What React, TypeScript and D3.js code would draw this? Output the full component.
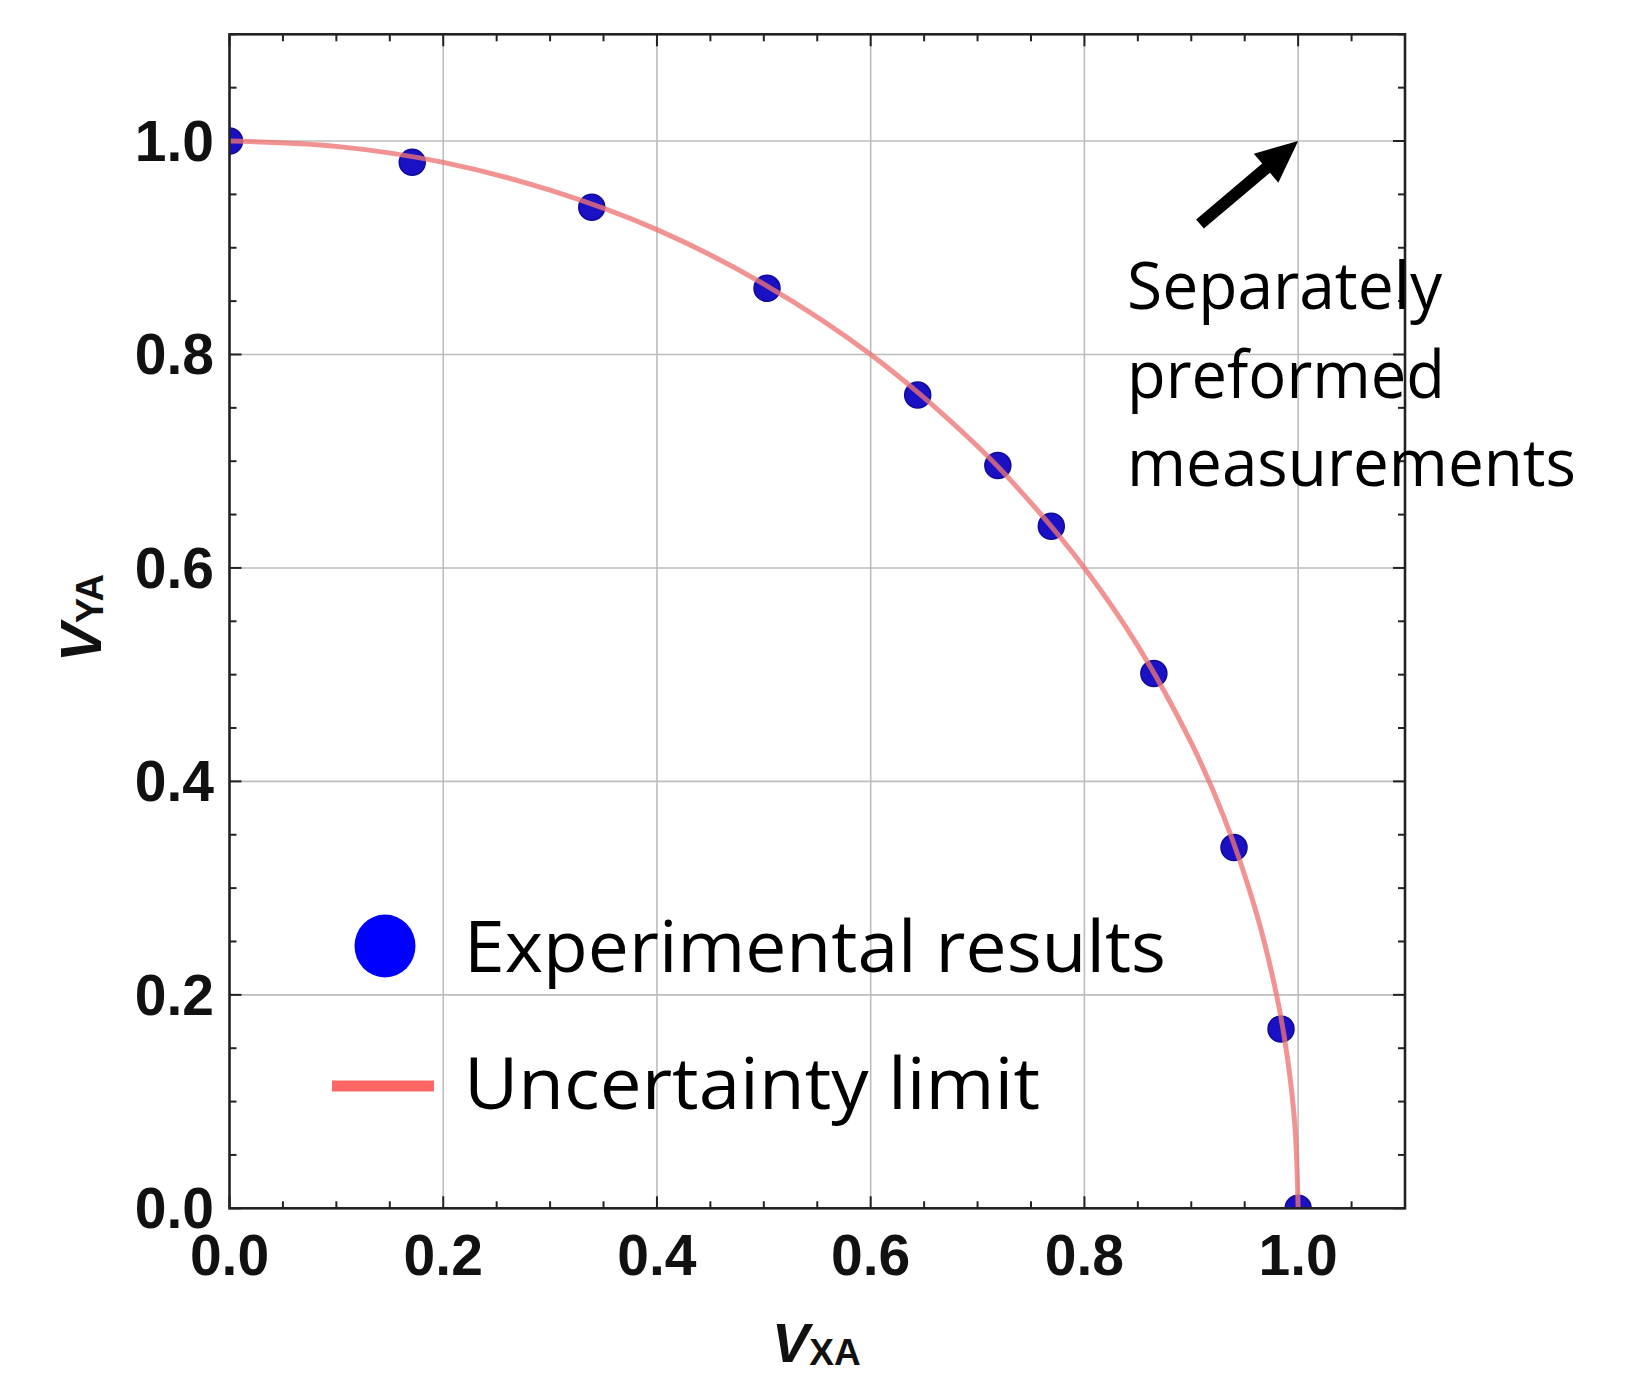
import React from "react";
import * as d3 from "d3";

const expX = [0.0, 0.171, 0.339, 0.503, 0.644, 0.719, 0.769, 0.865, 0.94, 0.984, 1.0];
const expY = [1.0, 0.98, 0.938, 0.862, 0.762, 0.696, 0.639, 0.501, 0.338, 0.168, 0.0];

// Uncertainty limit curve
const limX = [0, 0.1, 0.2, 0.3, 0.4, 0.5, 0.6, 0.7, 0.75, 0.8, 0.85, 0.9, 0.93, 0.96, 0.98, 0.99, 0.997, 1.0];
const limY = [1, 0.995, 0.98, 0.954, 0.917, 0.866, 0.8, 0.714, 0.661, 0.6, 0.527, 0.436, 0.368, 0.28, 0.199, 0.141, 0.077, 0];

const xTicks = [0, 0.2, 0.4, 0.6, 0.8, 1.0];
const yTicks = [0, 0.2, 0.4, 0.6, 0.8, 1.0];
const tickLabels = ["0.0", "0.2", "0.4", "0.6", "0.8", "1.0"];
const annotationLines = ["Separately", "preformed", "measurements"];
const legendLabels = ["Experimental results", "Uncertainty limit"];

const W = 1636;
const H = 1376;
const left = 229.5;
const right = 1405;
const top = 34.3;
const bottom = 1208.3;

export default function App() {
  const x = d3.scaleLinear().domain([0, 1.1]).range([left, right]);
  const y = d3.scaleLinear().domain([0, 1.1]).range([bottom, top]);

  const minor = d3.range(0, 1.1001, 0.05).map((v) => +v.toFixed(2));
  const isMajor = (v: number) => Math.abs(v * 5 - Math.round(v * 5)) < 1e-6;

  const line = d3
    .line<number>()
    .x((_, i) => x(limX[i]))
    .y((_, i) => y(limY[i]))
    .curve(d3.curveCatmullRom.alpha(0.5));

  // arrow
  const tip = [x(1.0), y(1.0)];
  const tail = [1200, 224];
  const dx = tip[0] - tail[0];
  const dy = tip[1] - tail[1];
  const len = Math.hypot(dx, dy);
  const ux = dx / len, uy = dy / len;
  const nx = -uy, ny = ux;
  const headL = 42, headW = 19, shaftW = 6;
  const bx = tip[0] - ux * headL, by = tip[1] - uy * headL;
  const arrowPts = [
    [tail[0] + nx * shaftW, tail[1] + ny * shaftW],
    [bx + nx * shaftW, by + ny * shaftW],
    [bx + nx * headW, by + ny * headW],
    [tip[0], tip[1]],
    [bx - nx * headW, by - ny * headW],
    [bx - nx * shaftW, by - ny * shaftW],
    [tail[0] - nx * shaftW, tail[1] - ny * shaftW],
  ];

  const tickFont = "'Liberation Sans', Arial, sans-serif";
  const textFont = "'Open Sans', 'Noto Sans', sans-serif";

  return (
    <svg
      width={W}
      height={H}
      viewBox={`0 0 ${W} ${H}`}
      style={{ position: "absolute", left: 0, top: 0, background: "#fff" }}
    >
      <defs>
        <clipPath id="plotClip">
          <rect x={left} y={top} width={right - left} height={bottom - top} />
        </clipPath>
      </defs>
      <rect x={0} y={0} width={W} height={H} fill="#fff" />
      {/* grid */}
      {xTicks.slice(1).map((v) => (
        <line key={"gx" + v} x1={x(v)} x2={x(v)} y1={top} y2={bottom} stroke="#bdbdbd" strokeWidth={1.6} />
      ))}
      {yTicks.slice(1).map((v) => (
        <line key={"gy" + v} x1={left} x2={right} y1={y(v)} y2={y(v)} stroke="#bdbdbd" strokeWidth={1.6} />
      ))}
      {/* ticks */}
      {minor.map((v) => {
        const L = isMajor(v) ? 12 : 7;
        return (
          <g key={"t" + v} stroke="#222" strokeWidth={2}>
            <line x1={x(v)} x2={x(v)} y1={bottom} y2={bottom - L} />
            <line x1={x(v)} x2={x(v)} y1={top} y2={top + L} />
            <line x1={left} x2={left + L} y1={y(v)} y2={y(v)} />
            <line x1={right} x2={right - L} y1={y(v)} y2={y(v)} />
          </g>
        );
      })}

      <g clipPath="url(#plotClip)">
        {/* points */}
        {expX.map((v, i) => (
          <circle key={"p" + i} cx={x(v)} cy={y(expY[i])} r={13} fill="#1a10c4" stroke="#100a9a" strokeWidth={1.5} />
        ))}
        {/* curve */}
        <path d={line(limX) || ""} fill="none" stroke="#ee7474" strokeOpacity={0.78} strokeWidth={5} />
      </g>
      {/* frame */}
      <rect x={left} y={top} width={right - left} height={bottom - top} fill="none" stroke="#222" strokeWidth={2.6} />

      {/* tick labels */}
      {xTicks.map((v, i) => (
        <text key={"xl" + v} x={x(v)} y={1275} textAnchor="middle" fontFamily={tickFont} fontWeight="bold" fontSize={57} fill="#111">
          {tickLabels[i]}
        </text>
      ))}
      {yTicks.map((v, i) => (
        <text key={"yl" + v} x={214} y={y(v) + 20} textAnchor="end" fontFamily={tickFont} fontWeight="bold" fontSize={57} fill="#111">
          {tickLabels[i]}
        </text>
      ))}

      {/* axis titles */}
      <text x={772} y={1362} fontFamily={tickFont} fontWeight="bold" fontStyle="italic" fontSize={56} fill="#111">
        V
        <tspan fontSize={37} fontStyle="normal" dy={3}>XA</tspan>
      </text>
      <text transform="translate(101,662) rotate(-90)" fontFamily={tickFont} fontWeight="bold" fontStyle="italic" fontSize={58} fill="#111">
        V
        <tspan fontSize={38} fontStyle="normal" dy={2}>YA</tspan>
      </text>

      {/* arrow + annotation */}
      <polygon points={arrowPts.map((p) => p.join(",")).join(" ")} fill="#000" />
      {annotationLines.map((t, i) => (
        <text
          key={"a" + i}
          x={1127}
          y={309 + i * 88.5}
          fontFamily={textFont}
          fontSize={66}
          fill="#000"
          textLength={[315, 318, 449][i]}
          lengthAdjust="spacingAndGlyphs"
        >
          {t}
        </text>
      ))}

      {/* legend */}
      <ellipse cx={385} cy={946} rx={30.5} ry={31.5} fill="#0000ff" />
      <text x={464} y={972} fontFamily={textFont} fontSize={71} fill="#000" textLength={702} lengthAdjust="spacingAndGlyphs">
        {legendLabels[0]}
      </text>
      <line x1={332} x2={434} y1={1086} y2={1086} stroke="#ff6666" strokeWidth={11} />
      <text x={464} y={1109} fontFamily={textFont} fontSize={71} fill="#000" textLength={576} lengthAdjust="spacingAndGlyphs">
        {legendLabels[1]}
      </text>
    </svg>
  );
}
